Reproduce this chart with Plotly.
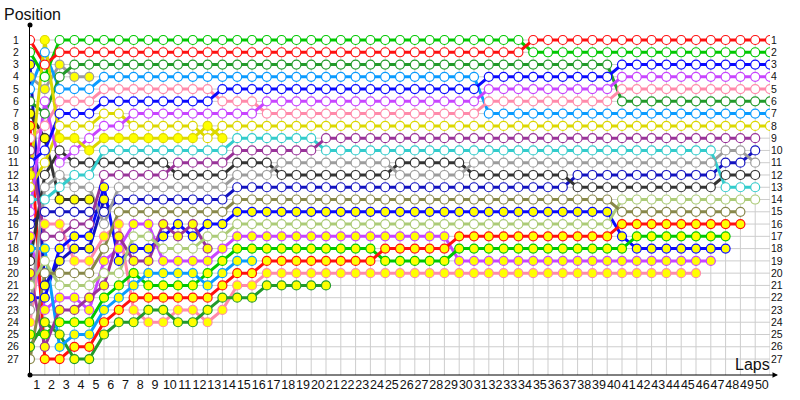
import plotly.graph_objects as go

# Lap chart: running position of every car from the grid (lap 0) to its last lap.
# Each list holds one value per lap, starting at lap 0.

# first cars of each team (hollow markers)
red_1 = [1, 3, 2, 2, 2, 2, 2, 2, 2, 2,
         2, 2, 2, 2, 2, 2, 2, 2, 2, 2,
         2, 2, 2, 2, 2, 2, 2, 2, 2, 2,
         2, 2, 2, 2, 1, 1, 1, 1, 1, 1,
         1, 1, 1, 1, 1, 1, 1, 1, 1, 1, 1]
green_1 = [2, 4, 1, 1, 1, 1, 1, 1, 1, 1,
           1, 1, 1, 1, 1, 1, 1, 1, 1, 1,
           1, 1, 1, 1, 1, 1, 1, 1, 1, 1,
           1, 1, 1, 1, 2, 2, 2, 2, 2, 2,
           2, 2, 2, 2, 2, 2, 2, 2, 2, 2, 2]
blue_1 = [11, 10, 7, 7, 7, 6, 6, 6, 6, 6,
          6, 6, 6, 5, 5, 5, 5, 5, 5, 5,
          5, 5, 5, 5, 5, 5, 5, 5, 5, 5,
          5, 4, 4, 4, 4, 4, 4, 4, 4, 4,
          3, 3, 3, 3, 3, 3, 3, 3, 3, 3, 3]
violet_1 = [15, 6, 11, 10, 9, 8, 8, 7, 7, 7,
            7, 7, 7, 7, 7, 7, 6, 6, 6, 6,
            6, 6, 6, 6, 6, 6, 6, 6, 6, 6,
            6, 5, 5, 5, 5, 5, 5, 5, 5, 5,
            4, 4, 4, 4, 4, 4, 4, 4, 4, 4, 4]
pink_1 = [9, 8, 6, 6, 6, 5, 5, 5, 5, 5,
          5, 5, 5, 6, 6, 6, 7, 7, 7, 7,
          7, 7, 7, 7, 7, 7, 7, 7, 7, 7,
          7, 6, 6, 6, 6, 6, 6, 6, 6, 6,
          5, 5, 5, 5, 5, 5, 5, 5, 5, 5, 5]
dkgreen_1 = [6, 7, 4, 3, 3, 3, 3, 3, 3, 3,
             3, 3, 3, 3, 3, 3, 3, 3, 3, 3,
             3, 3, 3, 3, 3, 3, 3, 3, 3, 3,
             3, 3, 3, 3, 3, 3, 3, 3, 3, 3,
             6, 6, 6, 6, 6, 6, 6, 6, 6, 6, 6]
ltblue_1 = [5, 2, 5, 5, 5, 4, 4, 4, 4, 4,
            4, 4, 4, 4, 4, 4, 4, 4, 4, 4,
            4, 4, 4, 4, 4, 4, 4, 4, 4, 4,
            4, 7, 7, 7, 7, 7, 7, 7, 7, 7,
            7, 7, 7, 7, 7, 7, 7, 7, 7, 7, 7]
yellow_1 = [13, 11, 8, 8, 8, 7, 7, 8, 8, 8,
            8, 8, 9, 8, 8, 8, 8, 8, 8, 8,
            8, 8, 8, 8, 8, 8, 8, 8, 8, 8,
            8, 8, 8, 8, 8, 8, 8, 8, 8, 8,
            8, 8, 8, 8, 8, 8, 8, 8, 8, 8, 8]
purple_1 = [10, 17, 17, 16, 16, 12, 12, 12, 12, 12,
            11, 11, 11, 11, 10, 10, 10, 10, 10, 10,
            9, 9, 9, 9, 9, 9, 9, 9, 9, 9,
            9, 9, 9, 9, 9, 9, 9, 9, 9, 9,
            9, 9, 9, 9, 9, 9, 9, 9, 9, 9]
cyan_1 = [14, 14, 13, 12, 12, 10, 10, 10, 10, 10,
          10, 10, 10, 10, 9, 9, 9, 9, 9, 9,
          10, 10, 10, 10, 10, 10, 10, 10, 10, 10,
          10, 10, 10, 10, 10, 10, 10, 10, 10, 10,
          10, 10, 10, 10, 10, 10, 10, 13, 13, 13]
gray_1 = [23, 13, 12, 13, 13, 16, 13, 13, 13, 13,
          13, 13, 13, 13, 12, 12, 12, 11, 11, 11,
          11, 11, 11, 11, 11, 12, 12, 12, 12, 12,
          11, 11, 11, 11, 11, 11, 11, 11, 11, 11,
          11, 11, 11, 11, 11, 11, 11, 10, 10, 11]
dark_1 = [19, 12, 10, 11, 11, 11, 11, 11, 11, 11,
          12, 12, 12, 12, 11, 11, 11, 12, 12, 12,
          12, 12, 12, 12, 12, 11, 11, 11, 11, 11,
          12, 12, 12, 12, 12, 12, 12, 13, 13, 13,
          13, 13, 13, 13, 13, 13, 13, 12, 12, 12]
navy_1 = [16, 15, 15, 15, 15, 15, 14, 14, 14, 14,
          14, 14, 14, 14, 13, 13, 13, 13, 13, 13,
          13, 13, 13, 13, 13, 13, 13, 13, 13, 13,
          13, 13, 13, 13, 13, 13, 13, 12, 12, 12,
          12, 12, 12, 12, 12, 12, 12, 11, 11, 10]
olive_1 = [27, 20, 20, 20, 20, 18, 15, 15, 15, 15,
           15, 15, 15, 15, 14, 14, 14, 14, 14, 14,
           14, 14, 14, 14, 14, 14, 14, 14, 14, 14,
           14, 14, 14, 14, 14, 14, 14, 14, 14, 14,
           15, 15, 15, 15, 15, 15, 15, 15, 15]
lime_1 = [21, 19, 21, 21, 21, 20, 20, 17, 17, 18,
          18, 18, 17, 17, 16, 16, 16, 16, 16, 16,
          16, 16, 16, 16, 16, 16, 16, 16, 16, 16,
          16, 16, 16, 16, 16, 16, 16, 16, 16, 16,
          14, 14, 14, 14, 14, 14, 14, 14, 14, 14]

# second cars of each team (yellow-filled markers)
red_2 = [8, 27, 27, 26, 26, 24, 23, 22, 22, 22,
         22, 22, 22, 21, 20, 20, 19, 19, 19, 19,
         19, 19, 19, 19, 18, 18, 18, 18, 18, 17,
         17, 17, 17, 17, 17, 17, 17, 17, 17, 17,
         16, 16, 16, 16, 16, 16, 16, 16, 16]
green_2 = [25, 25, 24, 24, 24, 22, 21, 20, 21, 21,
           21, 21, 20, 19, 18, 18, 18, 18, 18, 18,
           18, 18, 18, 18, 19, 19, 19, 19, 19, 18,
           18, 18, 18, 18, 18, 18, 18, 18, 18, 18,
           18, 17, 17, 17, 17, 17, 17, 17]
blue_2 = [22, 22, 18, 17, 17, 13, 19, 18, 18, 17,
          16, 17, 16, 16, 15, 15, 15, 15, 15, 15,
          15, 15, 15, 15, 15, 15, 15, 15, 15, 15,
          15, 15, 15, 15, 15, 15, 15, 15, 15, 15,
          17, 18, 18, 18, 18, 18, 18, 18]
violet_2 = [17, 23, 22, 22, 23, 19, 18, 16, 16, 19,
            19, 19, 19, 18, 17, 17, 17, 17, 17, 17,
            17, 17, 17, 17, 17, 17, 17, 17, 17, 19,
            19, 19, 19, 19, 19, 19, 19, 19, 19, 19,
            19, 19, 19, 19, 19, 19, 19]
pink_2 = [24, 16, 16, 19, 19, 17, 16, 23, 24, 24,
          23, 23, 24, 23, 21, 21, 20, 20, 20, 20,
          20, 20, 20, 20, 20, 20, 20, 20, 20, 20,
          20, 20, 20, 20, 20, 20, 20, 20, 20, 20,
          20, 20, 20, 20, 20, 20]
dkgreen_2 = [26, 24, 25, 27, 27, 25, 24, 24, 23, 23,
             24, 24, 23, 22, 22, 22, 21, 21, 21, 21,
             21]
ltblue_2 = [18, 18, 26, 25, 25, 23, 22, 21, 20, 20,
            20, 20, 21, 20, 19, 19]
yellow_2 = [12, 1, 9, 9, 10, 9, 9, 9, 9, 9,
            9, 9, 8, 9]
purple_2 = [20, 26, 23, 23, 22, 21, 17, 19, 19, 16,
            17, 16, 18]
navy_2 = [3, 21, 19, 18, 18, 14]
dark_2 = [7, 9, 14, 14, 14]
gray_2 = [4, 5, 3, 4, 4]

cars = [
    # (positions, colour, yellow filled)
    (pink_2, "#ff8aaa", True),
    (violet_2, "#c845ff", True),
    (blue_2, "#0a0aff", True),
    (green_2, "#00c800", True),
    (red_2, "#ff1010", True),
    (dkgreen_2, "#229a2a", True),
    (ltblue_2, "#0a9bff", True),
    (purple_2, "#993399", True),
    (navy_2, "#1212c0", True),
    (dark_2, "#333333", True),
    (gray_2, "#9c9c9c", True),
    (lime_1, "#accb78", False),
    (olive_1, "#88884a", False),
    (navy_1, "#1212c0", False),
    (dark_1, "#333333", False),
    (gray_1, "#9c9c9c", False),
    (cyan_1, "#33cccc", False),
    (purple_1, "#993399", False),
    (yellow_1, "#dcd800", False),
    (ltblue_1, "#0a9bff", False),
    (dkgreen_1, "#229a2a", False),
    (pink_1, "#ff8aaa", False),
    (violet_1, "#c845ff", False),
    (blue_1, "#0a0aff", False),
    (green_1, "#00c800", False),
    (red_1, "#ff1010", False),
    (yellow_2, "#dcd800", True),
]

laps = list(range(0, 51))
positions = list(range(1, 28))
lap_labels = [str(n) for n in range(1, 51)]

fig = go.Figure()

# grid
grid = "#cdcdcd"
for lap in laps[1:]:
    fig.add_shape(type="line", x0=lap, x1=lap, y0=1, y1=28.3,
                  line=dict(color=grid, width=1), layer="below")
for p in positions:
    fig.add_shape(type="line", x0=0, x1=50, y0=p, y1=p,
                  line=dict(color=grid, width=1), layer="below")

# connecting lines first, markers on top
for pos, color, filled in cars:
    fig.add_trace(go.Scatter(
        x=laps[:len(pos)], y=pos, mode="lines",
        line=dict(color=color, width=3), hoverinfo="skip"
    ))
for pos, color, filled in cars:
    fig.add_trace(go.Scatter(
        x=laps[:len(pos)], y=pos, mode="markers",
        marker=dict(size=9, color="#ffff00" if filled else "white",
                    line=dict(color=color, width=1.2)),
    ))

# axis end dots
fig.add_trace(go.Scatter(
    x=[0, 0], y=[-0.222, 28.3], mode="markers", cliponaxis=False,
    marker=dict(size=5, color="black")
))
# right-hand position labels
fig.add_trace(go.Scatter(x=[50], y=[1], yaxis="y2", mode="markers",
                         marker=dict(size=1, color="rgba(0,0,0,0)")))

fig.add_annotation(xref="paper", yref="paper", x=1.0108, y=0,
                   ax=-748, ay=0, axref="pixel", ayref="pixel",
                   showarrow=True, arrowhead=2, arrowsize=1.1,
                   arrowwidth=1, arrowcolor="black", text="")
fig.add_annotation(xref="paper", yref="paper", x=-0.038, y=1.03,
                   xanchor="left", yanchor="middle", showarrow=False,
                   text="Position", font=dict(size=16, color="#111"))
fig.add_annotation(xref="paper", yref="paper", x=0.95, y=0.03,
                   xanchor="left", yanchor="middle", showarrow=False,
                   text="Laps", font=dict(size=16, color="#111"))

fig.update_layout(
    width=800, height=400,
    margin=dict(l=30, r=30, t=25, b=25, autoexpand=False),
    plot_bgcolor="white", paper_bgcolor="white",
    showlegend=False,
    font=dict(family="Liberation Sans", color="#111"),
    xaxis=dict(range=[0, 50], tickvals=[n - 0.55 for n in range(1, 51)],
               ticktext=lap_labels, showgrid=False, zeroline=False,
               showline=False, ticks="", tickangle=0, automargin=False,
               tickfont=dict(size=12.5)),
    yaxis=dict(range=[28.3, -0.222], tickvals=positions, showgrid=False,
               zeroline=False, showline=True, linecolor="black", linewidth=1,
               ticks="", tickfont=dict(size=10.5), ticklabelstandoff=8,
               automargin=False),
    yaxis2=dict(range=[28.3, -0.222], tickvals=positions, overlaying="y",
                side="right", showgrid=False, zeroline=False, showline=False,
                ticks="", tickfont=dict(size=10.5), automargin=False),
)

# page body has a default margin; drop it so the figure sits at the corner
fig.write_html("out.html", config={"displayModeBar": False},
               post_script="document.body.style.margin='0';")
